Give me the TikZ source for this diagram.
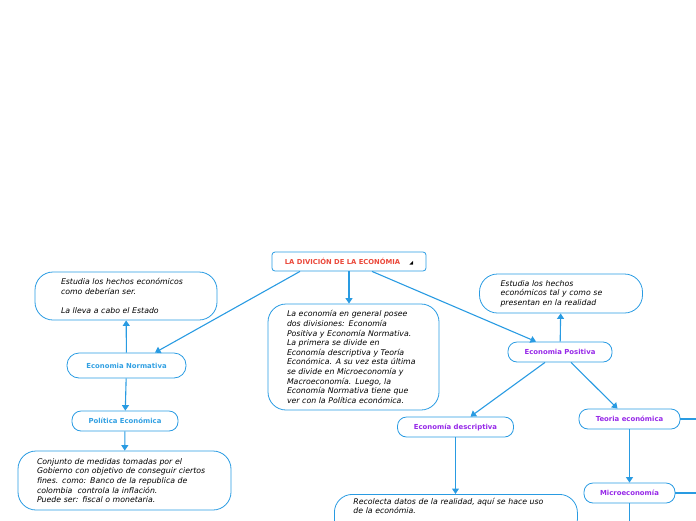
\documentclass[tikz,border=0pt]{standalone}
\usepackage{fontspec}
\setmainfont{DejaVu Sans}
\usetikzlibrary{arrows.meta}
\definecolor{mapline}{RGB}{41,155,226}
\definecolor{normblue}{RGB}{50,160,226}
\definecolor{posviolet}{RGB}{150,40,232}
\definecolor{titlered}{RGB}{234,72,58}

\begin{document}
\begin{tikzpicture}[x=1pt, y=-1pt,
	every node/.style={font=\fontsize{7.8}{9.6}\selectfont},
	link/.style={draw=mapline, line width=1.1pt, -{Triangle[width=7pt,length=5.5pt]}},
	plain/.style={draw=mapline, line width=1.1pt},
	note/.style={draw=mapline, line width=0.8pt, rounded corners=18pt, align=left, inner ysep=4pt, font=\fontsize{7.8}{9.6}\selectfont\itshape},
	topic/.style={draw=mapline, line width=0.8pt, rounded corners=9pt, inner sep=0pt, font=\fontsize{6.9}{8}\selectfont\bfseries}]
	\useasboundingbox (0,0) rectangle (696,520);
	\clip (0,0) rectangle (696,520);
	% main title
	\node[draw=mapline, line width=0.8pt, rounded corners=3pt, minimum width=154pt, minimum height=19pt, inner sep=0pt, text=titlered, font=\fontsize{6.8}{8}\selectfont\bfseries] (title) at (349,261.5) {LA DIVICIÓN DE LA ECONÓMIA\hspace{9pt}{\color{black}\fontsize{5}{6}\selectfont ◢}};
	\node[note, text width=133pt, inner xsep=19pt, minimum width=171pt, minimum height=106pt] (resumen) at (353.5,357) {La economía en general posee\\dos divisiones: Economía\\Positiva y Economía Normativa.\\La primera se divide en\\Economía descriptiva y Teoría\\Económica. A su vez esta última\\se divide en Microeconomía y\\Macroeconomía. Luego, la\\Economía Normativa tiene que\\ver con la Política económica.};
	% normativa side
	\node[topic, text=normblue, minimum width=119pt, minimum height=25pt, rounded corners=12pt] (normativa) at (126.5,365.5) {Economia Normativa};
	\node[note, text width=130pt, inner xsep=26pt, minimum width=182pt, minimum height=48pt] (deber) at (126,296) {Estudia los hechos económicos\\como deberían ser.\\[9pt]La lleva a cabo el Estado};
	\node[topic, text=normblue, minimum width=106pt, minimum height=20pt] (politica) at (125,421) {Política Económica};
	\node[note, text width=175pt, inner xsep=19pt, minimum width=213pt, minimum height=59pt] (medidas) at (124.5,480.5) {Conjunto de medidas tomadas por el\\Gobierno con objetivo de conseguir ciertos\\fines. como: Banco de la republica de\\colombia\ \ controla la inflación.\\Puede ser: fiscal o monetaria.};
	% positiva side
	\node[topic, text=posviolet, minimum width=104pt, minimum height=20pt] (positiva) at (560,352) {Economia Positiva};
	\node[note, text width=121pt, inner xsep=21pt, minimum width=162pt, minimum height=39pt] (tal) at (561,293.5) {Estudia los hechos\\económicos tal y como se\\presentan en la realidad};
	\node[topic, text=posviolet, minimum width=116pt, minimum height=20pt] (descriptiva) at (455.5,427) {Economía descriptiva};
	\node[topic, text=posviolet, minimum width=101pt, minimum height=20pt] (teoria) at (629.5,419) {Teoria económica};
	\node[topic, text=posviolet, minimum width=91pt, minimum height=20pt] (micro) at (629.5,493) {Microeconomía};
	\node[note, anchor=north west, text width=205pt, inner xsep=19pt, inner ysep=3.5pt, text depth=30pt, font=\fontsize{7.8}{9.2}\selectfont\itshape] (datos) at (334,494) {Recolecta datos de la realidad, aquí se hace uso\\de la económia.};
	\coordinate (teoriaout) at (700,419);
	\coordinate (microout) at (700,493);
	\coordinate (microdown) at (629.5,524);
	% connectors
	\draw[link] ([xshift=-49pt]title.south) -- ([xshift=28.5pt]normativa.north);
	\draw[link] (title.south) -- (resumen.north -| title.south);
	\draw[link] ([xshift=23pt]title.south) -- ([xshift=-24pt]positiva.north);
	\draw[link] (normativa) -- (deber);
	\draw[link] (normativa) -- (politica);
	\draw[link] (politica) -- (medidas);
	\draw[link] (positiva) -- (tal);
	\draw[link] ([xshift=-15pt]positiva.south) -- ([xshift=15pt]descriptiva.north);
	\draw[link] ([xshift=11pt]positiva.south) -- ([xshift=-12pt]teoria.north);
	\draw[link] (descriptiva) -- (datos.north -| descriptiva);
	\draw[link] (teoria) -- (micro);
	\draw[plain] (teoria.east) -- (teoriaout);
	\draw[plain] (micro.east) -- (microout);
	\draw[plain] (micro.south) -- (microdown);
\end{tikzpicture}
\end{document}
